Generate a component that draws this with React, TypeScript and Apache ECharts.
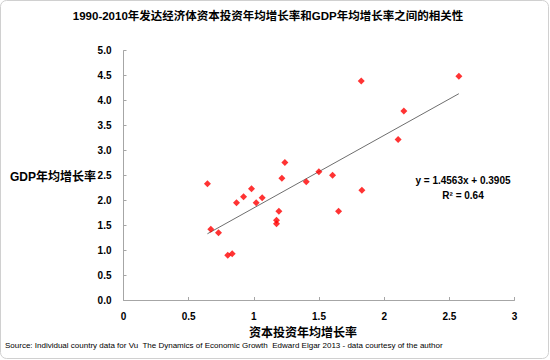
import React, { useEffect, useRef } from "react";
import * as echarts from "echarts";

const title = "1990-2010年发达经济体资本投资年均增长率和GDP年均增长率之间的相关性";
const xAxisName = "资本投资年均增长率";
const yAxisName = "GDP年均增长率";
const sourceText = "Source: Individual country data for Vu  The Dynamics of Economic Growth  Edward Elgar 2013 - data courtesy of the author";

const investmentGrowth = [0.644, 0.67, 0.729, 0.8, 0.834, 0.867, 0.921, 0.982, 1.018, 1.064, 1.174, 1.174, 1.192, 1.215, 1.238, 1.402, 1.499, 1.604, 1.65, 1.824, 1.829, 2.107, 2.151, 2.573];
const gdpGrowth = [2.33, 1.42, 1.35, 0.9, 0.93, 1.95, 2.07, 2.23, 1.95, 2.05, 1.6, 1.53, 1.78, 2.44, 2.76, 2.37, 2.57, 2.5, 1.78, 4.39, 2.2, 3.22, 3.79, 4.49];

const slope = 1.4563;
const intercept = 0.3905;
const rSquared = 0.64;

export default function App() {
  const ref = useRef<HTMLDivElement>(null);
  useEffect(() => {
    if (!ref.current) return;
    const chart = echarts.init(ref.current, null, { renderer: "svg" });
    const points = investmentGrowth.map((x, i) => [x, gdpGrowth[i]]);
    const xMin = Math.min(...investmentGrowth);
    const xMax = Math.max(...investmentGrowth);
    const trend = [
      [xMin, slope * xMin + intercept],
      [xMax, slope * xMax + intercept],
    ];
    const font = "'Liberation Sans', Arial, sans-serif";
    const cjk = "'Liberation Sans', 'Noto Sans CJK SC', sans-serif";
    chart.setOption({
      animation: false,
      backgroundColor: "#fff",
      grid: { left: 123.5, right: 35.5, top: 50.7, bottom: 60 },
      xAxis: {
        type: "value",
        min: 0,
        max: 3,
        interval: 0.5,
        axisLine: { lineStyle: { color: "#a6a6a6", width: 1 } },
        axisTick: { inside: true, length: 3, lineStyle: { color: "#a6a6a6" } },
        splitLine: { show: false },
        axisLabel: { color: "#000", fontWeight: "bold", fontSize: 10, fontFamily: font, margin: 11 },
      },
      yAxis: {
        type: "value",
        min: 0,
        max: 5,
        interval: 0.5,
        axisLine: { show: true, lineStyle: { color: "#a6a6a6", width: 1 } },
        axisTick: { show: true, inside: true, length: 3, lineStyle: { color: "#a6a6a6" } },
        splitLine: { show: false },
        axisLabel: {
          color: "#000",
          fontWeight: "bold",
          fontSize: 10,
          fontFamily: font,
          margin: 12,
          formatter: (v: number) => v.toFixed(1),
        },
      },
      series: [
        {
          type: "line",
          data: trend,
          showSymbol: false,
          symbol: "none",
          lineStyle: { color: "#6e6e6e", width: 1 },
          z: 1,
        },
        {
          type: "scatter",
          data: points,
          symbol: "diamond",
          symbolSize: 7,
          itemStyle: { color: "#ff0000" },
          z: 2,
        },
      ],
      graphic: [
        {
          type: "rect",
          shape: { x: 0.5, y: 0.5, width: 548, height: 358, r: 6 },
          style: { fill: "none", stroke: "#d0d0d0", lineWidth: 1 },
          silent: true,
        },
        {
          type: "text",
          x: 268,
          y: 16,
          style: {
            text: title,
            fill: "#000",
            font: `bold 11.5px ${cjk}`,
            textAlign: "center",
            textVerticalAlign: "middle",
          },
        },
        {
          type: "text",
          x: 96,
          y: 177,
          style: {
            text: yAxisName,
            fill: "#000",
            font: `bold 12px ${cjk}`,
            textAlign: "right",
            textVerticalAlign: "middle",
          },
        },
        {
          type: "text",
          x: 303,
          y: 333,
          style: {
            text: xAxisName,
            fill: "#000",
            font: `bold 12px ${cjk}`,
            textAlign: "center",
            textVerticalAlign: "middle",
          },
        },
        {
          type: "text",
          x: 463,
          y: 180,
          style: {
            text: `y = ${slope}x + ${intercept}`,
            fill: "#000",
            font: `bold 10px ${font}`,
            textAlign: "center",
            textVerticalAlign: "middle",
          },
        },
        {
          type: "text",
          x: 463,
          y: 195,
          style: {
            text: `R² = ${rSquared}`,
            fill: "#000",
            font: `bold 10px ${font}`,
            textAlign: "center",
            textVerticalAlign: "middle",
          },
        },
        {
          type: "text",
          x: 5,
          y: 345,
          style: {
            text: sourceText,
            fill: "#000",
            font: `8px ${font}`,
            textAlign: "left",
            textVerticalAlign: "middle",
          },
        },
      ],
    });
    return () => chart.dispose();
  }, []);
  return (
    <div
      ref={ref}
      style={{ position: "absolute", left: 0, top: 0, width: 550, height: 360 }}
    />
  );
}
